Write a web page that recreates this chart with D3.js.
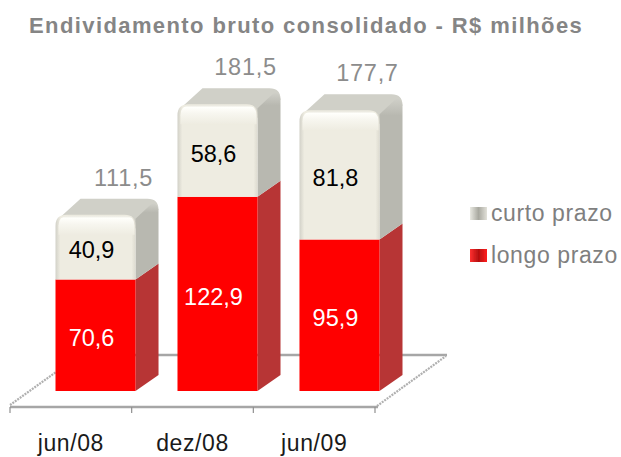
<!DOCTYPE html>
<html><head><meta charset="utf-8">
<script src="https://cdn.jsdelivr.net/npm/d3@7"></script>
<style>html,body{margin:0;padding:0;background:#fff}svg{display:block}text{font-family:"Liberation Sans",Arial,sans-serif}</style>
</head><body><svg id="c" width="621" height="457"></svg>
<script>
const categories = ["jun/08","dez/08","jun/09"];
const longTerm = [70.6,122.9,95.9];
const shortTerm = [40.9,58.6,81.8];
const totals = [111.5,181.5,177.7];
const longLabels = ["70,6","122,9","95,9"];
const shortLabels = ["40,9","58,6","81,8"];
const totalLabels = ["111,5","181,5","177,7"];
const seriesNames = ["curto prazo","longo prazo"];
const titleText = "Endividamento bruto consolidado - R$ milhões";

const svg = d3.select("#c");
const DX = 23, DY = -16, R = 11;
const x = d3.scaleBand().domain(categories).range([55.5,379.5]).paddingInner(0.344).paddingOuter(0);
const xAxisScale = d3.scaleBand().domain(categories).range([10,375]);
const y = d3.scaleLinear().domain([0,200]).range([391,75]);

const defs = svg.append("defs");
function grad(id,x2,y2,stops){
  const g = defs.append("linearGradient").attr("id",id).attr("x1",0).attr("y1",0).attr("x2",x2).attr("y2",y2);
  stops.forEach(s=>g.append("stop").attr("offset",s[0]).attr("stop-color",s[1]));
}
grad("capV",0,1,[[0,"#e9e8de"],[0.12,"#fffffb"],[0.45,"#f7f6ef"],[1,"#eeece1"]]);
grad("capH",1,0,[[0,"#d2d1c8"],[0.06,"#eeece1"],[0.95,"#eeece1"],[1,"#dddbd0"]]);
grad("sideH",0,1,[[0,"#cfcfc8"],[0.12,"#b8b8b0"],[1,"#b8b8b0"]]);
grad("sw1",1,0,[[0,"#e9e9e2"],[0.5,"#a9a9a0"],[1,"#e2e1d9"]]);
grad("sw2",1,0,[[0,"#ff3030"],[0.5,"#b50f0f"],[1,"#ff2020"]]);
defs.append("filter").attr("id","soft").append("feGaussianBlur").attr("stdDeviation",0.7);
defs.append("filter").attr("id","soft2").append("feGaussianBlur").attr("stdDeviation",1.2);

// floor
const floor = svg.append("g");
const yBack = 355, yFront = 407;
const xl = xAxisScale.range()[0], xr = xAxisScale.range()[1];
floor.append("line").attr("x1",xl+48).attr("x2",xr+72).attr("y1",yBack).attr("y2",yBack).attr("stroke","#a6a6a6").attr("stroke-width",2.4);
[[xl,yFront-2,xl+46,yBack+17],[xr+2,yFront-1,xr+71,yBack+1]].forEach(d=>{
  floor.append("line").attr("x1",d[0]).attr("y1",d[1]).attr("x2",d[2]).attr("y2",d[3])
    .attr("stroke","#b0b0b0").attr("stroke-width",2.2).attr("stroke-dasharray","2 1");
});
const axis = d3.axisBottom(xAxisScale).tickSize(0).tickPadding(28);
const axG = svg.append("g").attr("transform",`translate(0,${yFront})`).call(axis);
axG.select(".domain").remove();
axG.selectAll("text").attr("font-size",23).attr("letter-spacing",0.6).attr("fill","#1a1a1a").attr("font-family",'"Liberation Sans",Arial,sans-serif');
const edges = [xl].concat(categories.map(c=>xAxisScale(c)+xAxisScale.bandwidth()));
axG.append("line").attr("x1",xl).attr("x2",xr+3).attr("stroke","#a6a6a6").attr("stroke-width",2.4);
axG.selectAll("line.t").data(edges).join("line").attr("class","t")
  .attr("x1",d=>d).attr("x2",d=>d).attr("y1",0).attr("y2",6).attr("stroke","#909090").attr("stroke-width",1.2);

// bars
const bars = svg.append("g").selectAll("g").data(categories).join("g");
bars.each(function(c,i){
  const g = d3.select(this);
  const x0 = x(c), w = x.bandwidth(), x1 = x0+w;
  const y0 = y(0), ym = y(longTerm[i]), yt = y(totals[i]);
  // red side
  g.append("path").attr("d",`M${x1},${y0}L${x1+DX},${y0+DY}L${x1+DX},${ym+DY}L${x1},${ym}Z`).attr("fill","#b73535");
  // top (drawn softly under the side and the front)
  g.append("path").attr("d",`M${x0+3},${yt+4}L${x0+DX+2},${yt+DY}L${x1+DX-R},${yt+DY}Q${x1+DX},${yt+DY} ${x1+DX},${yt+DY+R}L${x1},${yt+14}L${x1-4},${yt+2}Z`).attr("fill","#d0d0c8").attr("filter","url(#soft)");
  // grey side
  g.append("path").attr("d",`M${x1},${ym}L${x1+DX},${ym+DY}L${x1+DX},${yt+DY+R}Q${x1+DX-2},${yt+DY+3} ${x1+DX-7},${yt+DY+5}L${x1},${yt+4}Z`).attr("fill","url(#sideH)");
  // red front
  g.append("rect").attr("x",x0).attr("y",ym).attr("width",w).attr("height",y0-ym).attr("fill","#ff0000");
  // cap front
  const cap = `M${x0},${ym}L${x0},${yt+R}Q${x0},${yt} ${x0+R},${yt}L${x1-R},${yt}Q${x1},${yt} ${x1},${yt+R}L${x1},${ym}Z`;
  g.append("path").attr("d",cap).attr("fill","url(#capH)");
  g.append("path").attr("d",`M${x0+3},${yt+20}L${x0+3},${yt+R}Q${x0+3},${yt+1} ${x0+R+2},${yt+1}L${x1-R},${yt+1}Q${x1-1},${yt+1} ${x1-1},${yt+R}L${x1-1},${yt+20}Z`).attr("fill","url(#capV)").attr("filter","url(#soft)");
  // value labels
  g.append("text").attr("x",x0+w/2-4).attr("y",(ym+yt)/2+11).attr("text-anchor","middle").attr("font-size",23.5).attr("fill","#000").text(shortLabels[i]);
  g.append("text").attr("x",x0+w/2-4).attr("y",(y0+ym)/2+11).attr("text-anchor","middle").attr("font-size",23.5).attr("fill","#fff").text(longLabels[i]);
  g.append("text").attr("x",x0+w/2+28).attr("y",yt-29).attr("text-anchor","middle").attr("font-size",23.5).attr("letter-spacing",0.7).attr("fill","#8c8c8c").text(totalLabels[i]);
});

// title
svg.append("text").attr("x",29).attr("y",33).attr("font-size",22).attr("font-weight","bold").attr("letter-spacing",1.4).attr("fill","#858585").text(titleText);

// legend
const legendY = d3.scalePoint().domain(seriesNames).range([221,263]);
const lg = svg.append("g").selectAll("g").data(seriesNames).join("g");
lg.append("rect").attr("x",470).attr("y",d=>legendY(d)-14).attr("width",17).attr("height",13)
  .attr("fill",(d,i)=>i?"url(#sw2)":"url(#sw1)").attr("filter","url(#soft)");
lg.append("text").attr("x",491).attr("y",d=>legendY(d)).attr("font-size",23).attr("letter-spacing",0.6).attr("fill","#7f7f7f").text(d=>d);
</script></body></html>
